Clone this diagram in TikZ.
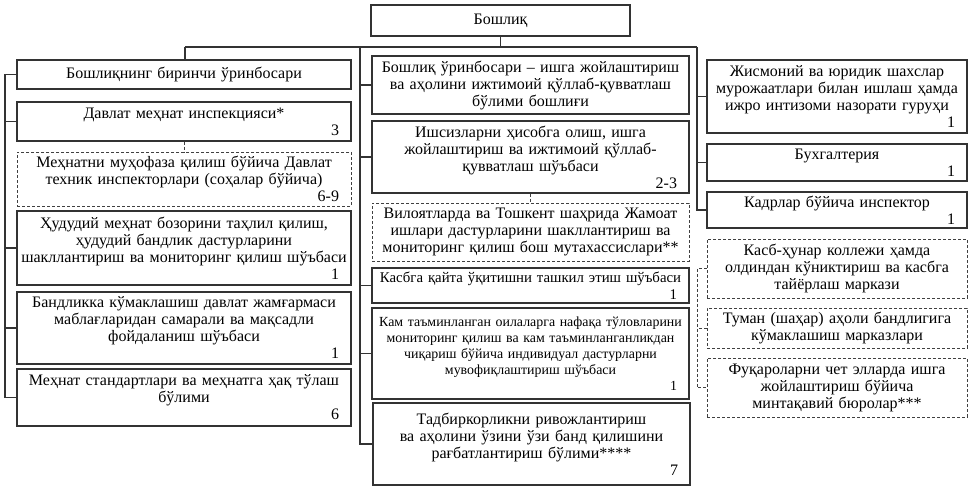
\documentclass[tikz,border=0pt]{standalone}
\usepackage{fontspec}
\setmainfont{Liberation Serif}
\usepackage{tikz}
\usetikzlibrary{calc}
\newcommand{\staff}[1]{\\\hspace*{\fill}#1\rule{8pt}{0pt}}
\tikzset{
  box/.style={draw=black!80, line width=1.1pt, inner xsep=4pt, inner ysep=1pt,
    align=center, font=\fontsize{16}{17}\selectfont},
  dbox/.style={box, draw=black!75, line width=0.8pt, dash pattern=on 3pt off 2pt},
  lcol/.style={minimum width=334, text width=326},
  mcol/.style={minimum width=317, text width=309},
  rcol/.style={minimum width=260, text width=252},
  line/.style={draw=black!80, line width=1.1pt},
  dline/.style={draw=black!75, line width=0.8pt, dash pattern=on 3pt off 2pt}
}
\begin{document}
\begin{tikzpicture}[x=1pt,y=-1pt]
\useasboundingbox (0,0) rectangle (971,490);
\node [box, minimum width=259, minimum height=31] (head) at (500.5,20.5) {Бошлиқ};
% left column
\node [box, lcol, minimum height=29] (first) at (184,74.5) {Бошлиқнинг биринчи ўринбосари};
\node [box, lcol, minimum height=39] (insp) at (184,121.5) {Давлат меҳнат инспекцияси*\staff{3}};
\node [dbox, lcol, minimum height=54] (tech) at (184,179) {Меҳнатни муҳофаза қилиш бўйича Давлат\\ техник инспекторлари (соҳалар бўйича)\staff{6-9}};
\node [box, lcol, minimum height=74] (labor) at (184,248) {Ҳудудий меҳнат бозорини таҳлил қилиш,\\ ҳудудий бандлик дастурларини\\ шакллантириш ва мониторинг қилиш шўъбаси\staff{1}};
\node [box, lcol, minimum height=72] (fund) at (184,328) {Бандликка кўмаклашиш давлат жамғармаси\\ маблағларидан самарали ва мақсадли\\ фойдаланиш шўъбаси\staff{1}};
\node [box, lcol, minimum height=57] (stand) at (184,397.5) {Меҳнат стандартлари ва меҳнатга ҳақ тўлаш\\ бўлими\staff{6}};
% middle column
\node [box, mcol, minimum height=58] (deputy) at (530.5,85) {Бошлиқ ўринбосари – ишга жойлаштириш\\ ва аҳолини ижтимоий қўллаб-қувватлаш\\ бўлими бошлиғи};
\node [box, mcol, minimum height=72] (unemp) at (530.5,157) {Ишсизларни ҳисобга олиш, ишга\\ жойлаштириш ва ижтимоий қўллаб-\\ қувватлаш шўъбаси\staff{2-3}};
\node [dbox, mcol, minimum height=58] (pubw) at (530.5,232) {Вилоятларда ва Тошкент шаҳрида Жамоат\\ ишлари дастурларини шакллантириш ва\\ мониторинг қилиш бош мутахассислари**};
\node [box, mcol, minimum height=35, font=\fontsize{14.8}{17}\selectfont] (retr) at (530.5,285.5) {Касбга қайта ўқитишни ташкил этиш шўъбаси\staff{1}};
\node [box, mcol, minimum height=91, font=\fontsize{13.9}{16}\selectfont] (poor) at (530.5,353.5) {Кам таъминланган оилаларга нафақа тўловларини\\ мониторинг қилиш ва кам таъминланганликдан\\ чиқариш бўйича индивидуал дастурларни\\ мувофиқлаштириш шўъбаси\staff{1}};
\node [box, mcol, minimum height=82] (entr) at (531.5,444) {Тадбиркорликни ривожлантириш\\ ва аҳолини ўзини ўзи банд қилишини\\ рағбатлантириш бўлими****\staff{7}};
% right column
\node [box, rcol, minimum height=73] (appeal) at (837,96.5) {Жисмоний ва юридик шахслар\\ мурожаатлари билан ишлаш ҳамда\\ ижро интизоми назорати гуруҳи\staff{1}};
\node [box, rcol, minimum height=37] (acc) at (837,162.5) {Бухгалтерия\staff{1}};
\node [box, rcol, minimum height=36] (hr) at (837,210) {Кадрлар бўйича инспектор\staff{1}};
\node [dbox, rcol, minimum height=59] (coll) at (837,268.5) {Касб-ҳунар коллежи ҳамда\\ олдиндан кўниктириш ва касбга\\ тайёрлаш маркази};
\node [dbox, rcol, minimum height=40] (cent) at (837,328) {Туман (шаҳар) аҳоли бандлигига\\ кўмаклашиш марказлари};
\node [dbox, rcol, minimum height=59] (bur) at (837,387.5) {Фуқароларни чет элларда ишга\\ жойлаштириш бўйича\\ минтақавий бюролар***};
% connectors
\coordinate (busL) at (185,47);
\coordinate (busM) at (360,47);
\coordinate (busR) at (697,47);
\coordinate (lsp) at (5,0);
\coordinate (rsp) at (697,0);
\draw [line] (head.south) -- (head.south |- busL);
\draw [line] (busL) -- (busR);
\draw [line] (busL) -- (busL |- first.north);
\draw [line] (first.west) -- (first.west -| lsp) -- (lsp |- stand.west) -- (stand.west);
\foreach \n in {insp,labor,fund}
  \draw [line] (\n.west) -- (\n.west -| lsp);
\draw [line] (busM) -- (busM |- entr.west) -- (entr.west);
\foreach \n in {deputy,unemp,retr,poor}
  \draw [line] (\n.west) -- (\n.west -| busM);
\draw [line] (busR) -- (busR |- hr.west) -- (hr.west);
\foreach \n in {appeal,acc}
  \draw [line] (\n.west) -- (\n.west -| busR);
\draw [dline] (insp.south) -- (tech.north);
\draw [dline] (unemp.south) -- (pubw.north);
\draw [dline] (coll.west) -- (coll.west -| rsp) -- (rsp |- bur.west) -- (bur.west);
\draw [dline] (cent.west) -- (cent.west -| rsp);
\end{tikzpicture}
\end{document}
